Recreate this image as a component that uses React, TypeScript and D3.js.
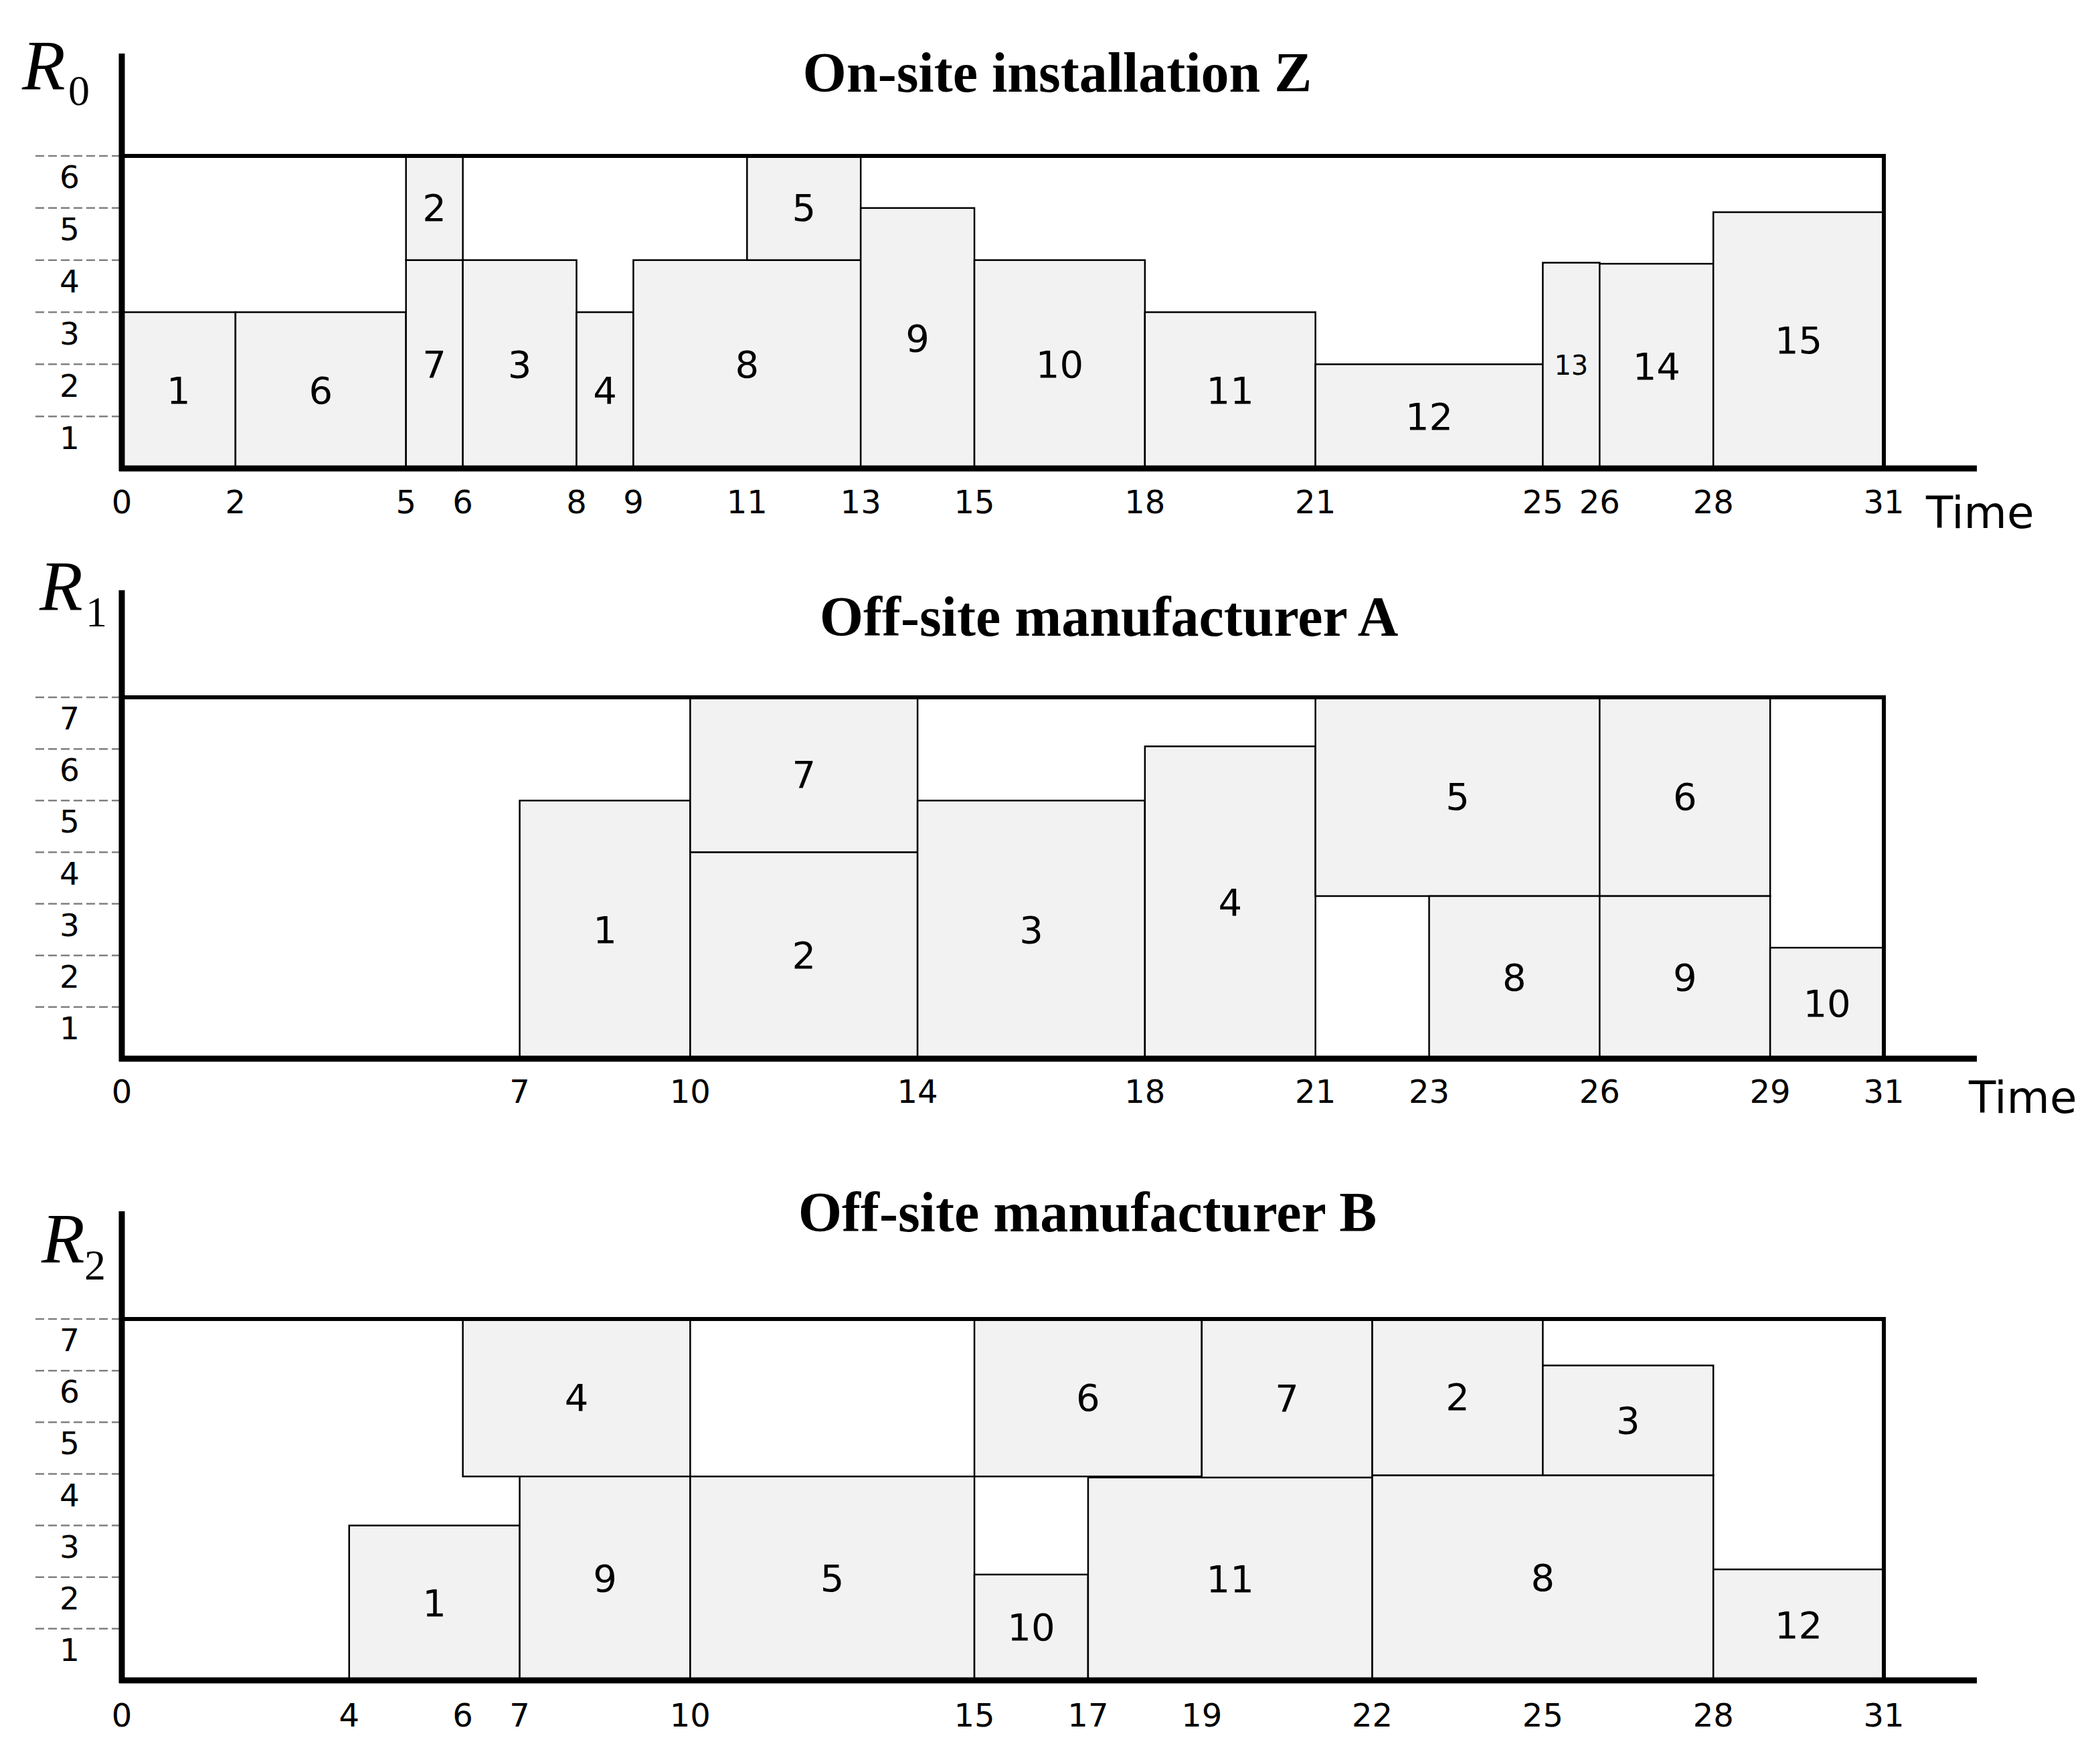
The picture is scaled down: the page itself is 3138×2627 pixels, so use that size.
import * as d3 from "d3";

const W = 3138;
const H = 2627;
const horizon = 31;

const titles = ["On-site installation Z", "Off-site manufacturer A", "Off-site manufacturer B"];
const resourceSubs = ["0", "1", "2"];
const capacities = [6, 7, 7];
const showTime = [true, true, false];

type Task = { id: string; start: number; end: number; lo: number; hi: number };

// on-site installation Z (R0)
const onsiteTasks: Task[] = [
  { id: "1", start: 0, end: 2, lo: 0, hi: 3 },
  { id: "6", start: 2, end: 5, lo: 0, hi: 3 },
  { id: "7", start: 5, end: 6, lo: 0, hi: 4 },
  { id: "2", start: 5, end: 6, lo: 4, hi: 6 },
  { id: "3", start: 6, end: 8, lo: 0, hi: 4 },
  { id: "4", start: 8, end: 9, lo: 0, hi: 3 },
  { id: "8", start: 9, end: 13, lo: 0, hi: 4 },
  { id: "5", start: 11, end: 13, lo: 4, hi: 6 },
  { id: "9", start: 13, end: 15, lo: 0, hi: 5 },
  { id: "10", start: 15, end: 18, lo: 0, hi: 4 },
  { id: "11", start: 18, end: 21, lo: 0, hi: 3 },
  { id: "12", start: 21, end: 25, lo: 0, hi: 2 },
  { id: "13", start: 25, end: 26, lo: 0, hi: 3.95 },
  { id: "14", start: 26, end: 28, lo: 0, hi: 3.93 },
  { id: "15", start: 28, end: 31, lo: 0, hi: 4.92 },
];

// off-site manufacturer A (R1)
const mfrATasks: Task[] = [
  { id: "1", start: 7, end: 10, lo: 0, hi: 5 },
  { id: "2", start: 10, end: 14, lo: 0, hi: 4 },
  { id: "7", start: 10, end: 14, lo: 4, hi: 7 },
  { id: "3", start: 14, end: 18, lo: 0, hi: 5 },
  { id: "4", start: 18, end: 21, lo: 0, hi: 6.05 },
  { id: "5", start: 21, end: 26, lo: 3.15, hi: 7 },
  { id: "8", start: 23, end: 26, lo: 0, hi: 3.15 },
  { id: "6", start: 26, end: 29, lo: 3.15, hi: 7 },
  { id: "9", start: 26, end: 29, lo: 0, hi: 3.15 },
  { id: "10", start: 29, end: 31, lo: 0, hi: 2.15 },
];

// off-site manufacturer B (R2)
const mfrBTasks: Task[] = [
  { id: "1", start: 4, end: 7, lo: 0, hi: 3 },
  { id: "4", start: 6, end: 10, lo: 3.95, hi: 7 },
  { id: "9", start: 7, end: 10, lo: 0, hi: 3.95 },
  { id: "5", start: 10, end: 15, lo: 0, hi: 3.95 },
  { id: "6", start: 15, end: 19, lo: 3.95, hi: 7 },
  { id: "10", start: 15, end: 17, lo: 0, hi: 2.05 },
  { id: "11", start: 17, end: 22, lo: 0, hi: 3.93 },
  { id: "7", start: 19, end: 22, lo: 3.93, hi: 7 },
  { id: "2", start: 22, end: 25, lo: 3.97, hi: 7 },
  { id: "3", start: 25, end: 28, lo: 3.97, hi: 6.1 },
  { id: "8", start: 22, end: 28, lo: 0, hi: 3.97 },
  { id: "12", start: 28, end: 31, lo: 0, hi: 2.15 },
];

const onsiteTicks = [0, 2, 5, 6, 8, 9, 11, 13, 15, 18, 21, 25, 26, 28, 31];
const mfrATicks = [0, 7, 10, 14, 18, 21, 23, 26, 29, 31];
const mfrBTicks = [0, 4, 6, 7, 10, 15, 17, 19, 22, 25, 28, 31];

const taskSets = [onsiteTasks, mfrATasks, mfrBTasks];
const tickSets = [onsiteTicks, mfrATicks, mfrBTicks];

// page layout per panel (pixels)
const layout = [
  { axisTop: 80, capY: 233, baseY: 700, titleX: 1580, titleY: 137, rX: 33, rY: 133, subX: 102, subY: 157, tickDy: 50, timeX: 2878, timeY: 766 },
  { axisTop: 882, capY: 1042, baseY: 1582, titleX: 1657, titleY: 950, rX: 59, rY: 911, subX: 128, subY: 936, tickDy: 49, timeX: 2942, timeY: 1640 },
  { axisTop: 1810, capY: 1971, baseY: 2511, titleX: 1625, titleY: 1840, rX: 62, rY: 1886, subX: 126, subY: 1912, tickDy: 52, timeX: 0, timeY: 0 },
];

const sans = "DejaVu Sans, Verdana, sans-serif";
const serif = "Liberation Serif, Times New Roman, serif";

const x = d3.scaleLinear([0, horizon], [182, 2815]);
const axisEnd = 2954;

function Panel({ i }: { i: number }) {
  const L = layout[i];
  const cap = capacities[i];
  const y = d3.scaleLinear([0, cap], [L.baseY, L.capY]);
  const levels = d3.range(1, cap + 1);
  return (
    <g>
      <text x={L.titleX} y={L.titleY} textAnchor="middle" fontFamily={serif} fontWeight="bold" fontSize={84}>
        {titles[i]}
      </text>
      <text x={L.rX} y={L.rY} fontFamily={serif} fontStyle="italic" fontSize={106}>R</text>
      <text x={L.subX} y={L.subY} fontFamily={serif} fontSize={64}>{resourceSubs[i]}</text>

      {levels.map((v) => (
        <line key={"d" + v} x1={53} x2={178} y1={y(v)} y2={y(v)} stroke="#808080" strokeWidth={2.5} strokeDasharray="13 6" />
      ))}
      {levels.map((v) => (
        <text key={"l" + v} x={104} y={(y(v) + y(v - 1)) / 2 - 7} textAnchor="middle" dominantBaseline="central" fontFamily={sans} fontSize={47}>
          {v}
        </text>
      ))}

      {taskSets[i].map((t, k) => (
        <rect
          key={"r" + k}
          x={x(t.start)}
          y={y(t.hi)}
          width={x(t.end) - x(t.start)}
          height={y(t.lo) - y(t.hi)}
          fill="#f2f2f2"
          stroke="#000"
          strokeWidth={2.5}
        />
      ))}
      {taskSets[i].map((t, k) => (
        <text
          key={"t" + k}
          x={(x(t.start) + x(t.end)) / 2}
          y={(y(t.lo) + y(t.hi)) / 2}
          textAnchor="middle"
          dominantBaseline="central"
          fontFamily={sans}
          fontSize={i === 0 && t.id === "13" ? 40 : 56}
        >
          {t.id}
        </text>
      ))}

      {/* capacity envelope */}
      <path
        d={`M${x(0)},${y(cap)}H${x(horizon)}V${L.baseY}`}
        fill="none"
        stroke="#000"
        strokeWidth={6}
      />
      {/* axes */}
      <line x1={x(0)} x2={x(0)} y1={L.baseY + 4} y2={L.axisTop} stroke="#000" strokeWidth={9} />
      <line x1={x(0) - 4} x2={axisEnd} y1={L.baseY} y2={L.baseY} stroke="#000" strokeWidth={9} />

      {tickSets[i].map((v) => (
        <text key={"x" + v} x={x(v)} y={L.baseY + L.tickDy} textAnchor="middle" dominantBaseline="central" fontFamily={sans} fontSize={48}>
          {v}
        </text>
      ))}
      {showTime[i] && (
        <text x={L.timeX} y={L.timeY} dominantBaseline="central" fontFamily={sans} fontSize={66}>
          Time
        </text>
      )}
    </g>
  );
}

export default function App() {
  return (
    <svg width={W} height={H} viewBox={`0 0 ${W} ${H}`} style={{ position: "absolute", left: 0, top: 0, background: "#fff" }}>
      <rect width={W} height={H} fill="#fff" />
      {[0, 1, 2].map((i) => (
        <Panel key={i} i={i} />
      ))}
    </svg>
  );
}
